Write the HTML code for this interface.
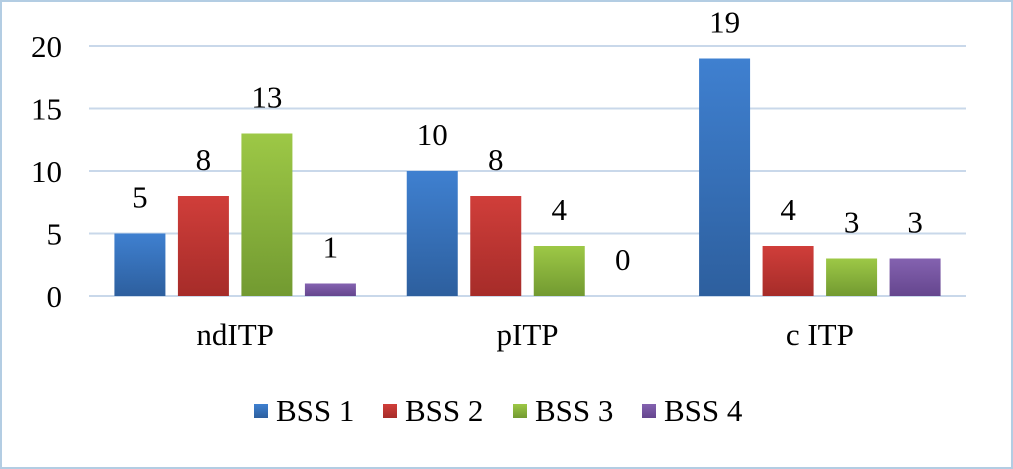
<!DOCTYPE html>
<html><head><meta charset="utf-8"><style>
body{margin:0;background:#fff}
svg{display:block}
text{font-family:"Liberation Serif",serif;fill:#000}
</style></head><body>
<svg id="c" width="1013" height="469">
<defs>
<linearGradient id="g0" x1="0" y1="0" x2="0" y2="1"><stop offset="0" stop-color="#3f80d0"/><stop offset="1" stop-color="#2d5f9e"/></linearGradient>
<linearGradient id="g1" x1="0" y1="0" x2="0" y2="1"><stop offset="0" stop-color="#d03e3a"/><stop offset="1" stop-color="#a62c29"/></linearGradient>
<linearGradient id="g2" x1="0" y1="0" x2="0" y2="1"><stop offset="0" stop-color="#9dc846"/><stop offset="1" stop-color="#729a31"/></linearGradient>
<linearGradient id="g3" x1="0" y1="0" x2="0" y2="1"><stop offset="0" stop-color="#8462b0"/><stop offset="1" stop-color="#65468e"/></linearGradient>
</defs>
<rect x="1" y="1" width="1011" height="467" fill="#fff" stroke="#b3cde3" stroke-width="2"/>
</svg>
<script>
const categories=["ndITP","pITP","c ITP"];
const seriesNames=["BSS 1","BSS 2","BSS 3","BSS 4"];
const bss1=[5,10,19];
const bss2=[8,8,4];
const bss3=[13,4,3];
const bss4=[1,0,3];
const yTicks=[0,5,10,15,20];
const series=[bss1,bss2,bss3,bss4];
const NS="http://www.w3.org/2000/svg";
const svg=document.getElementById('c');
const x0=89,x1=966,y0=296,yTop=46,yMax=20,FS=31;
const y=v=>y0-(v/yMax)*(y0-yTop);
const catW=(x1-x0)/categories.length;
const barW=51,gap=12.5;
const bx=(c,s)=>x0+c*catW+(catW-(4*barW+3*gap))/2+s*(barW+gap);
function mk(t,a){const e=document.createElementNS(NS,t);for(const k in a)e.setAttribute(k,a[k]);svg.appendChild(e);return e;}
yTicks.forEach(t=>{
 const l=mk('line',{x1:x0,x2:x1,y1:y(t),y2:y(t),stroke:'#c9d8ea','stroke-width':2});
 
 
 const tx=mk('text',{x:62,y:y(t)+11,'text-anchor':'end','font-size':FS});
 tx.textContent=t;
 
 
});
categories.forEach((c,ci)=>{
 series.forEach((s,si)=>{
  const v=s[ci],X=bx(ci,si);
  if(v>0){const r=mk('rect',{x:X,y:y(v),width:barW,height:y0-y(v),fill:'url(#g'+si+')'});
  
  }
  const t=mk('text',{x:X+barW/2,y:y(v)-26,'text-anchor':'middle','font-size':FS});
  t.textContent=v;
  
  
 });
 const t=mk('text',{x:x0+catW*(ci+0.5),y:345,'text-anchor':'middle','font-size':FS});
 t.textContent=c;
 
 
});
const lx=[254,383,513,642];
seriesNames.forEach((n,i)=>{
 const r=mk('rect',{x:lx[i],y:404,width:14,height:14,fill:'url(#g'+i+')'});
 
 
 const t=mk('text',{x:lx[i]+22,y:421,'font-size':FS});
 t.textContent=n;
 
 
});
</script>
</body></html>
